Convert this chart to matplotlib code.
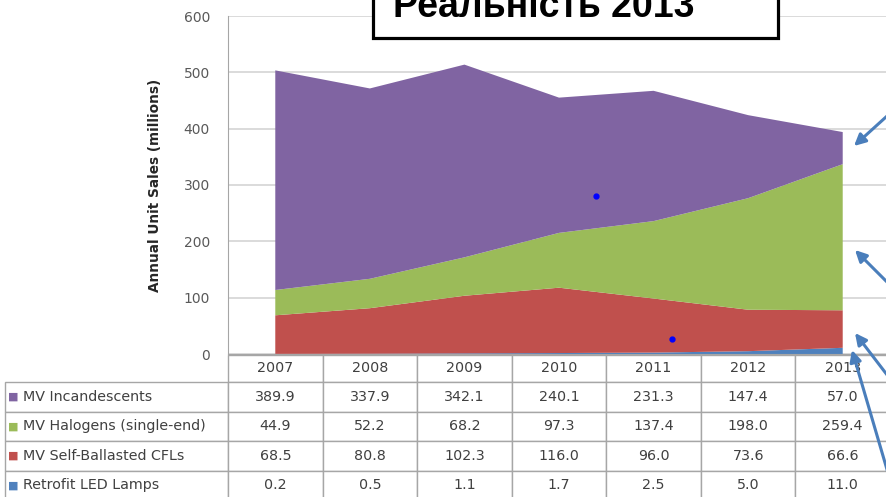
import matplotlib
matplotlib.use("Agg")
import numpy as np
import matplotlib.pyplot as plt
from matplotlib.patches import Rectangle

# data
years = ["2007", "2008", "2009", "2010", "2011", "2012", "2013"]
incandescent = [389.9, 337.9, 342.1, 240.1, 231.3, 147.4, 57.0]
halogen = [44.9, 52.2, 68.2, 97.3, 137.4, 198.0, 259.4]
cfl = [68.5, 80.8, 102.3, 116.0, 96.0, 73.6, 66.6]
led = [0.2, 0.5, 1.1, 1.7, 2.5, 5.0, 11.0]
labels = ["MV Incandescents", "MV Halogens (single-end)",
          "MV Self-Ballasted CFLs", "Retrofit LED Lamps"]
title = "Реальність 2013"
yticks = [0, 100, 200, 300, 400, 500, 600]
# stray blue dots in the screenshot (data coords)
dots_x = [3.39, 4.20]
dots_y = [280, 27]

colors = {"inc": "#8064A2", "hal": "#9BBB59", "cfl": "#C0504D", "led": "#4F81BD"}
txt = "#404040"
W, H = 886, 497

plt.rcParams['font.family'] = ['DejaVu Sans']

fig = plt.figure(figsize=(W / 100, H / 100), dpi=100)
ax = fig.add_axes([228 / W, (H - 354) / H, (890 - 228) / W, (354 - 16) / H])

x = np.arange(len(years))
ax.stackplot(x, led, cfl, halogen, incandescent,
             colors=[colors["led"], colors["cfl"], colors["hal"], colors["inc"]],
             linewidth=0, zorder=2)
ax.plot(dots_x, dots_y, 'o', color='#0000ff', ms=3.5, zorder=3)

ax.set_xlim(-0.5, 6.5)
ax.set_ylim(0, 600)
ax.set_yticks(yticks)
ax.set_xticks([])
ax.grid(axis='y', color='#d4d4d4', lw=1.2, zorder=0)
ax.set_axisbelow(True)
for s in ["top", "right"]:
    ax.spines[s].set_visible(False)
ax.spines["left"].set_color("#a6a6a6")
ax.spines["bottom"].set_color("#a6a6a6")
ax.tick_params(axis='y', length=0, pad=13, labelsize=10, labelcolor='#595959')
ax.set_ylabel("Annual Unit Sales (millions)", fontsize=9.8, fontweight='bold',
              color='#262626', va='center')
ax.yaxis.set_label_coords((155 - 228) / 662, 0.5)

# data table under the plot, first column holds the series names
series = (incandescent, halogen, cfl, led)
cells = [[name] + [f"{v:.1f}" for v in row] for name, row in zip(labels, series)]
tab = ax.table(cellText=cells, colLabels=[""] + years,
               colWidths=[223] + [94.5] * 7, cellLoc='center',
               bbox=[(5 - 228) / 662, (354 - 500) / 338, 885 / 662, 145 / 338])
tab.auto_set_font_size(False)
tab.set_fontsize(10.3)
for (r, c), cell in tab.get_celld().items():
    cell.set_edgecolor('#a6a6a6')
    cell.set_linewidth(1)
    cell.get_text().set_color(txt)
    cell.set_height(27 if r == 0 else 29.5)
    if c == 0:
        cell.PAD = 0.08
        cell.get_text().set_horizontalalignment('left')
        if r == 0:
            cell.visible_edges = ''

keys = ["inc", "hal", "cfl", "led"]
row_y = [396.75, 426.25, 455.75, 485.25]
for k, yy in zip(keys, row_y):
    fig.text(8 / W, 1 - yy / H, "■", color=colors[k], fontsize=8, va='center')

# title box, cut at the top of the screenshot
fig.add_artist(Rectangle((373 / W, (H - 38) / H), (778 - 373) / W, 60 / H,
                         transform=fig.transFigure, facecolor='white',
                         edgecolor='black', lw=2.3, zorder=5))
fig.text(393 / W, 1 - 17 / H, title, fontsize=27, fontweight='bold',
         family=['Liberation Sans', 'DejaVu Sans'], va='baseline', zorder=6)

# arrows coming in from the right edge
arrows = [((854, 146), (897, 107)), ((855, 250), (893, 288)),
          ((855, 333), (891, 380)), ((852, 350), (893, 490))]
for head, tail in arrows:
    ax.annotate('', xy=(head[0], H - head[1]), xytext=(tail[0], H - tail[1]),
                xycoords='figure pixels', textcoords='figure pixels',
                arrowprops=dict(arrowstyle='-|>', color='#4a7ebb', lw=2.2,
                                mutation_scale=17, shrinkA=0, shrinkB=0),
                annotation_clip=False)

fig.savefig("out.png", dpi=100)
